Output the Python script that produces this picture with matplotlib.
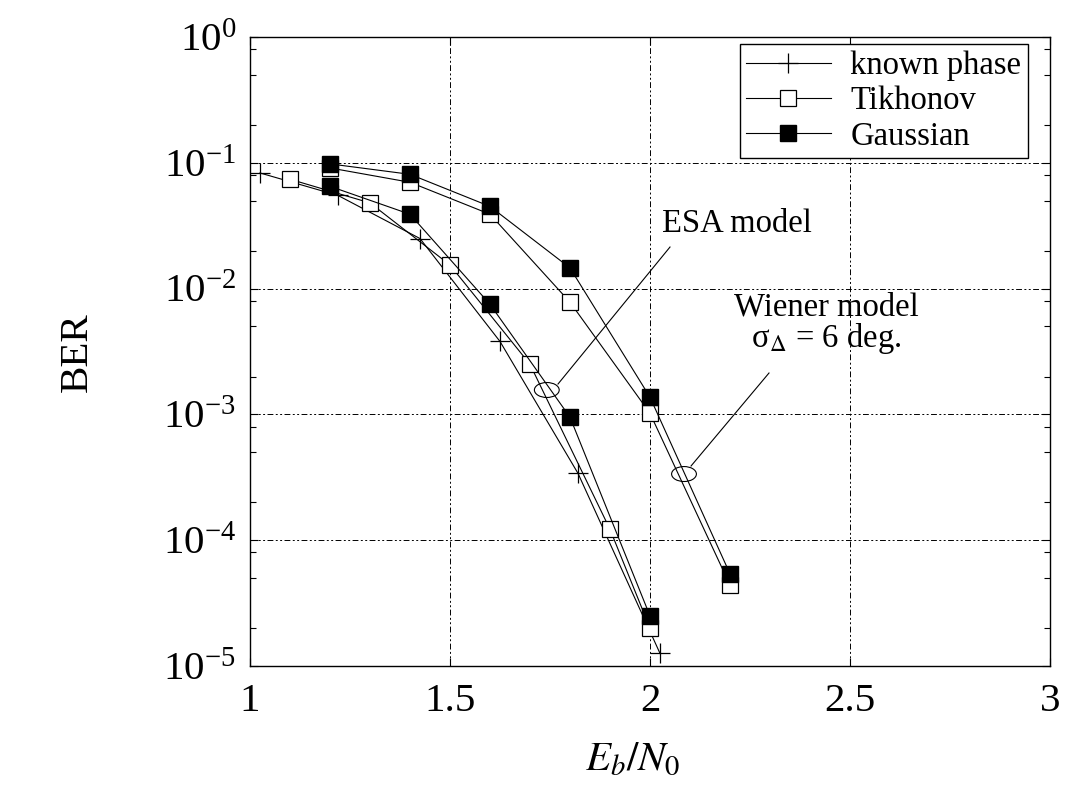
import numpy as np
import matplotlib
matplotlib.use("Agg")
import matplotlib.pyplot as plt
from matplotlib.patches import Ellipse
from matplotlib.ticker import LogLocator, FixedLocator, FuncFormatter, NullFormatter

plt.rcParams['font.family'] = ['Liberation Serif', 'DejaVu Serif']
plt.rcParams['mathtext.fontset'] = 'stix'

# ---------------- data ----------------
known_x = [1.025, 1.22, 1.425, 1.625, 1.82, 2.025]
known_y = [0.083, 0.055, 0.025, 0.0038, 3.4e-4, 1.26e-5]

tik_esa_x = [1.1, 1.3, 1.5, 1.7, 1.9, 2.0]
tik_esa_y = [0.074, 0.048, 0.0154, 0.0025, 1.22e-4, 2.0e-5]

gau_esa_x = [1.2, 1.4, 1.6, 1.8, 2.0]
gau_esa_y = [0.065, 0.039, 0.0075, 9.5e-4, 2.5e-5]

tik_wie_x = [1.2, 1.4, 1.6, 1.8, 2.0, 2.2]
tik_wie_y = [0.091, 0.070, 0.039, 0.0078, 1.02e-3, 4.4e-5]

gau_wie_x = [1.2, 1.4, 1.6, 1.8, 2.0, 2.2]
gau_wie_y = [0.098, 0.081, 0.045, 0.0146, 1.37e-3, 5.4e-5]

x_ticks = [1, 1.5, 2, 2.5, 3]
legend_labels = ["known phase", "Tikhonov", "Gaussian"]

# ---------------- figure ----------------
fig = plt.figure(figsize=(10.72, 7.85), dpi=100)
ax = fig.add_axes([250/1072, 1-666/785, 800/1072, 629/785])

lw = 0.8
cross_kw = dict(color='black', lw=lw, marker='+', ms=14, mew=0.9)
open_kw = dict(color='black', lw=lw, marker='s', ms=12, mfc='white', mec='black', mew=0.9)
fill_kw = dict(color='black', lw=lw, marker='s', ms=12, mfc='black', mec='black')

h1, = ax.plot(known_x, known_y, **cross_kw)
h2, = ax.plot(tik_esa_x, tik_esa_y, **open_kw)
ax.plot(tik_wie_x, tik_wie_y, **open_kw)
h3, = ax.plot(gau_esa_x, gau_esa_y, **fill_kw)
ax.plot(gau_wie_x, gau_wie_y, **fill_kw)

ax.set_yscale('log')
ax.set_xlim(1, 3)
ax.set_ylim(1e-5, 1)

ax.xaxis.set_major_locator(FixedLocator(x_ticks))
ax.xaxis.set_major_formatter(FuncFormatter(lambda v, p: "%g" % v))
ax.yaxis.set_major_locator(LogLocator(base=10, numticks=10))
ax.yaxis.set_minor_locator(LogLocator(base=10, subs=(2.0, 5.0, 8.0), numticks=10))
ax.yaxis.set_minor_formatter(NullFormatter())

ax.tick_params(axis='both', which='both', direction='in', top=True, right=True)
ax.tick_params(axis='both', which='major', length=6, width=0.8, labelsize=29.5)
ax.tick_params(axis='x', which='major', pad=12)
ax.tick_params(axis='y', which='major', pad=10)
ax.tick_params(axis='y', which='minor', length=4, width=0.8)

ax.grid(True, which='major', color='black', lw=0.7,
        linestyle=(0, (6, 2.5, 2, 2.5, 2, 2.5)))
for s in ax.spines.values():
    s.set_linewidth(1.0)

ax.set_xlabel(r'$E_b/N_0$', fontsize=29.5, x=(633-250)/800, labelpad=16)
fig.text(77/1072, 1-352/785, 'BER', rotation=90, fontsize=29.5,
         ha='center', va='center')

# annotations
ax.add_patch(Ellipse((0.371, 0.4388), 0.031, 0.0238, transform=ax.transAxes,
                     fill=False, ec='black', lw=0.8))
ax.plot([0.385, 0.525], [0.4483, 0.6661], transform=ax.transAxes, color='black', lw=0.8)
ax.text((662-250)/800, (666-232)/629, 'ESA model', transform=ax.transAxes,
        fontsize=23.5, ha='left', va='baseline')

ax.add_patch(Ellipse((0.5425, 0.3052), 0.031, 0.0238, transform=ax.transAxes,
                     fill=False, ec='black', lw=0.8))
ax.plot([0.5513, 0.64875], [0.3180, 0.4658], transform=ax.transAxes, color='black', lw=0.8)
ax.text(0.7206, (666-315)/629, 'Wiener model', transform=ax.transAxes,
        fontsize=23.5, ha='center', va='baseline')
ax.text(0.72, (666-347)/629, r'σ$_{\Delta}$ = 6 deg.', transform=ax.transAxes,
        fontsize=23.5, ha='center', va='baseline')

leg = ax.legend([h1, h2, h3], legend_labels, loc='upper right',
                bbox_to_anchor=((1028-250)/800, (666-44)/629), borderaxespad=0,
                fontsize=23.5, fancybox=False, framealpha=1, edgecolor='black',
                handlelength=2.6, handletextpad=0.6, labelspacing=0.15,
                borderpad=0.2)
leg.get_frame().set_linewidth(1.0)

fig.savefig('out.png', dpi=100)
